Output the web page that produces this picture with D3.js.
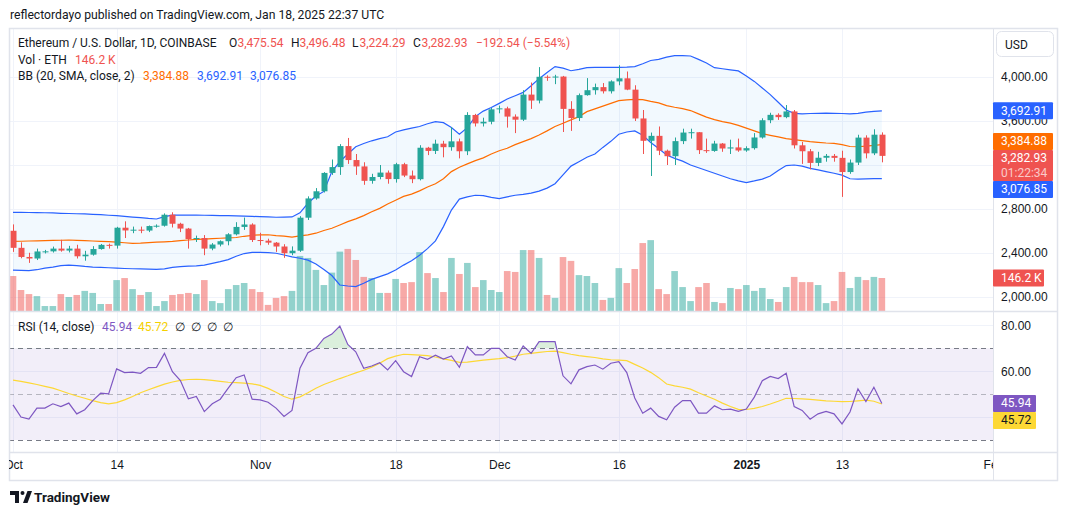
<!DOCTYPE html>
<html>
<head>
<meta charset="utf-8">
<script src="https://cdn.jsdelivr.net/npm/d3@7"></script>
<style>
  body { margin: 0; background: #fff; }
  svg { display: block; font-family: Roboto, "Liberation Sans", sans-serif; }
  .axis text { fill: #131722; font-size: 12px; }
</style>
</head>
<body>
<svg id="chart" width="1068" height="515"></svg>
<script>
// 1: DATA (ETH/USD daily, Oct 1 2024 - Jan 18 2025)
const startDay = new Date(Date.UTC(2024, 9, 1));
const endDay = new Date(Date.UTC(2025, 0, 19));

const open = [
  2602,2447,2364,2350,2414,2415,2440,2422,2440,2370,2385,2436,2474,2467,2630,2605,2612,2604,2645,2648,2748,2666,2622,2527,2536,2440,2477,2507,2570,2637,2659,
  2518,2512,2494,2459,2398,2421,2721,2896,2961,3128,3181,3372,3245,3187,3056,3091,3131,3072,3207,3104,3071,3357,3328,3394,3362,3415,3325,3655,3578,3593,
  3706,3715,3640,3612,3840,3786,4002,3995,4004,3710,3627,3835,3880,3908,3870,3960,3988,3885,3623,3420,3465,3330,3280,3417,3495,3498,3335,3328,3395,3350,3360,
  3332,3353,3450,3607,3656,3635,3687,3379,3325,3219,3266,3283,3265,3136,3222,3449,3306,3475.54
];
const high = [
  2660,2497,2402,2440,2428,2458,2520,2465,2475,2420,2462,2482,2485,2638,2688,2640,2640,2650,2660,2760,2770,2675,2628,2558,2563,2490,2515,2580,2680,2722,2670,
  2584,2530,2500,2480,2460,2735,2915,2990,3135,3250,3390,3446,3300,3225,3120,3200,3150,3220,3220,3150,3380,3365,3430,3420,3545,3440,3680,3665,3630,3720,
  3740,3730,3660,3880,3950,4090,4015,4020,4010,3780,3850,3990,3940,3945,3970,4107,4050,3925,3700,3495,3550,3340,3450,3530,3530,3500,3440,3420,3400,3430,3440,
  3370,3490,3625,3675,3670,3745,3700,3410,3345,3320,3300,3300,3330,3250,3475,3470,3525,3496.48
];
const low = [
  2410,2352,2310,2336,2396,2404,2412,2405,2350,2330,2376,2430,2440,2440,2536,2580,2580,2590,2630,2640,2632,2590,2440,2500,2380,2425,2460,2470,2560,2610,2500,
  2470,2475,2410,2356,2380,2410,2700,2885,2950,3110,3110,3210,3110,3020,3030,3070,3030,3040,3090,3035,3060,3290,3300,3270,3330,3260,3290,3550,3550,3570,
  3670,3540,3490,3600,3710,3760,3965,3935,3500,3510,3600,3830,3840,3850,3850,3925,3880,3600,3300,3100,3290,3200,3200,3390,3440,3300,3310,3320,3320,3300,3320,
  3320,3340,3440,3580,3610,3625,3350,3210,3160,3190,3230,3230,2910,3120,3200,3260,3290,3224.29
];
const close = [
  2447,2364,2350,2414,2415,2440,2422,2440,2370,2385,2436,2474,2467,2630,2605,2612,2604,2645,2648,2748,2666,2622,2527,2536,2440,2477,2507,2570,2637,2659,2518,
  2512,2494,2459,2398,2421,2721,2896,2961,3128,3181,3372,3245,3187,3056,3091,3131,3072,3207,3104,3071,3357,3328,3394,3362,3415,3325,3655,3578,3593,3706,
  3715,3640,3612,3840,3786,4002,3995,4004,3710,3627,3835,3880,3908,3870,3960,3988,3885,3623,3420,3465,3330,3280,3417,3495,3498,3335,3328,3395,3350,3360,3332,
  3353,3450,3607,3656,3635,3687,3379,3325,3219,3266,3283,3265,3136,3222,3449,3306,3475.47,3282.93
];
// volume in thousands of ETH
const volume = [
  155,93,75,66,22,22,75,62,71,89,80,31,31,137,146,97,71,84,22,44,71,75,80,75,137,44,35,97,115,124,97,
  84,27,58,66,89,244,235,182,115,170,263,275,226,151,146,80,80,142,124,128,261,168,146,84,235,164,213,106,137,93,
  84,177,173,270,270,235,71,58,239,222,159,155,124,49,58,190,124,186,301,314,97,75,177,106,44,106,124,40,35,102,97,
  115,89,102,53,40,106,151,128,128,115,35,44,173,102,151,137,151,146.2
];
// Bollinger bands (20, SMA, close, 2)
const bbUpper = [
  2770,2769,2768,2767,2766,2764,2761,2759,2757,2755,2752,2748,2743,2739,2733,2727,2721,2714,2709,2730,
  2745,2745,2744,2744,2743,2742,2740,2739,2737,2736,2733,2730,2728,2725,2726,2728,2765,2852,2918,2960,
  3140,3230,3300,3366,3395,3420,3440,3457,3500,3520,3535,3550,3575,3594,3585,3540,3480,3540,3640,3690,
  3722,3760,3800,3830,3860,3920,3985,4040,4095,4080,4057,4070,4085,4088,4088,4088,4088,4090,4095,4120,
  4150,4160,4180,4194,4195,4191,4160,4128,4085,4075,4065,4055,4010,3960,3900,3840,3770,3700,3670,3665,
  3668,3670,3672,3670,3668,3664,3670,3680,3688,3692.91
];
const bbMid = [
  2505,2507,2509,2510,2512,2514,2516,2518,2515,2512,2509,2506,2503,2498,2493,2488,2490,2494,2498,2502,
  2506,2512,2518,2523,2527,2531,2534,2537,2541,2552,2561,2564,2566,2558,2553,2544,2555,2565,2580,2605,
  2625,2655,2685,2710,2740,2775,2806,2845,2880,2915,2935,2965,3000,3030,3075,3140,3180,3210,3240,3265,
  3300,3330,3352,3385,3412,3440,3473,3510,3550,3580,3610,3640,3685,3710,3735,3760,3785,3792,3797,3794,
  3778,3765,3740,3725,3712,3695,3665,3635,3612,3595,3580,3560,3535,3510,3485,3470,3455,3440,3430,3422,
  3412,3406,3400,3396,3385,3368,3366,3372,3378,3384.88
];
const bbLower = [
  2245,2242,2240,2248,2262,2272,2285,2290,2286,2278,2272,2270,2266,2262,2259,2257,2255,2253,2252,2255,
  2270,2276,2280,2283,2290,2306,2322,2340,2370,2395,2406,2405,2404,2398,2382,2365,2352,2335,2300,2250,
  2195,2109,2100,2094,2125,2160,2185,2210,2245,2290,2330,2380,2440,2510,2640,2790,2890,2910,2925,2922,
  2905,2895,2910,2925,2933,2945,2962,2990,3030,3110,3190,3230,3270,3300,3360,3415,3480,3500,3510,3470,
  3405,3350,3291,3260,3235,3200,3175,3150,3125,3100,3075,3055,3040,3055,3072,3100,3150,3195,3200,3190,
  3170,3155,3140,3125,3108,3075,3072,3074,3076,3076.85
];
// RSI (14, close) and its moving average
const rsi = [
  45.3,40,39.1,43.9,43.9,45.8,44.6,46.1,41.4,43.2,47.2,50.4,50.1,61,59.4,59.6,59.1,61.6,61.7,67.8,
  59.8,55.9,48,49,42.4,45.8,47.8,52.6,57.2,58.4,47.8,47.5,46.5,43.9,40.3,42.9,61.3,68.1,70,74.3,
  76.2,79.7,71.7,68.5,61.3,62.3,63.7,60.6,64.6,59.8,57.7,66.3,65.2,67,65.3,66.7,61.7,70.7,67.1,67.1,
  70,70,66.3,64.9,71,67.8,72.9,72.9,72.9,58,54.5,60.6,62,62.7,60.9,63.5,64.2,59.4,48.3,41.7,
  43.9,40.3,38.8,44.3,47.2,47.2,41.7,41.7,44.9,43.2,43.5,42.5,43.5,48.7,55.9,57.7,56.8,59.1,44.6,42.9,
  39.1,41.4,42.5,41.4,37,42.2,52.3,46.8,53,45.94
];
const rsiMa = [
  56.1,55.6,54.9,54.2,53.4,52.6,51.5,50.3,49.2,48.2,47.2,46.3,45.8,46.3,47.5,49,50.6,51.9,53.2,54.4,
  55.3,56,56.4,56.5,56.3,56,55.6,55.2,55,54.8,54.5,53.8,52.5,50.8,49,47.8,48.8,50.6,52.6,54.2,
  55.5,56.8,58,59.3,60.4,61.8,63.5,65.5,66.6,67.4,67.2,67,66.8,66.2,65.4,64.7,63.9,64,64.4,64.8,
  65.2,65.5,65.9,66.6,67.4,67.8,68.2,68.6,68.8,68.1,67.4,66.8,66.4,66,65.4,65,64.8,64.6,63,61.4,
  59.5,57.2,54.4,53.6,53,52.2,50.6,49.2,47.8,46.1,44.6,43.4,43.3,43.8,44.6,45.7,46.9,48.2,48.1,47.9,
  47.7,47.4,47.1,46.9,46.7,46.8,47.1,47.4,46.9,45.72
];

const priceTicks = [2000, 2400, 2800, 3200, 3600, 4000];
const priceTickLabels = [2000, 2400, 2800, 3600, 4000];   // 3,200 sits under the last-price tag
const rsiTicks = [40, 60, 80];
const rsiTickLabels = [60, 80];                           // 40 sits under the MA tag
const timeTicks = ["2024-10-01", "2024-10-14", "2024-11-01", "2024-11-18", "2024-12-01", "2024-12-16", "2025-01-01", "2025-01-13", "2025-02-01"];
const timeLabels = ["Oct", "14", "Nov", "18", "Dec", "16", "2025", "13", "Feb"];

// 2: LAYOUT
const W = 1068, H = 515;
const frame = { left: 9, top: 28, right: 1058, bottom: 481 };
const axisX = 993;
const mainBottom = 311, rsiTop = 312, rsiBottom = 452;

const UP = "#26a69a", DOWN = "#ef5350";

const dates = d3.utcDay.range(startDay, endDay);
const bars = dates.map((d, i) => ({
  date: d, o: open[i], h: high[i], l: low[i], c: close[i], v: volume[i],
  up: bbUpper[i], mid: bbMid[i], lo: bbLower[i], rsi: rsi[i], ma: rsiMa[i]
}));

// 3: SCALES
const x = d3.scaleUtc()
  .domain([new Date(Date.UTC(2024, 9, 1)), new Date(Date.UTC(2025, 0, 13))])
  .range([13, 842]);
const yPrice = d3.scaleLinear().domain([2000, 4000]).range([297, 77]);
const yVol = d3.scaleLinear().domain([0, 146.2]).range([311, 278]);
const yRsi = d3.scaleLinear().domain([30, 70]).range([440, 348.3]);

const svg = d3.select("#chart");
svg.append("rect").attr("width", W).attr("height", H).attr("fill", "#fff");

const defs = svg.append("defs");
defs.append("clipPath").attr("id", "clipMain").append("rect")
  .attr("x", frame.left).attr("y", frame.top).attr("width", axisX - frame.left).attr("height", mainBottom - frame.top);
defs.append("clipPath").attr("id", "clipRsi").append("rect")
  .attr("x", frame.left).attr("y", rsiTop).attr("width", axisX - frame.left).attr("height", rsiBottom - rsiTop);
defs.append("clipPath").attr("id", "clipOb").append("rect")
  .attr("x", frame.left).attr("y", rsiTop).attr("width", axisX - frame.left).attr("height", yRsi(70) - rsiTop);
defs.append("clipPath").attr("id", "clipTime").append("rect")
  .attr("x", frame.left).attr("y", rsiBottom).attr("width", axisX - frame.left).attr("height", frame.bottom - rsiBottom);

// 4: GRID
const grid = svg.append("g").attr("stroke", "#f0f3fa").attr("stroke-width", 1);
timeTicks.forEach(t => {
  const xx = Math.round(x(new Date(t + "T00:00:00Z"))) + 0.5;
  if (xx < axisX) {
    grid.append("line").attr("x1", xx).attr("x2", xx).attr("y1", frame.top).attr("y2", rsiBottom);
  }
});
priceTicks.forEach(p => {
  const yy = Math.round(yPrice(p)) + 0.5;
  grid.append("line").attr("x1", frame.left).attr("x2", axisX).attr("y1", yy).attr("y2", yy);
});
rsiTicks.forEach(r => {
  const yy = Math.round(yRsi(r)) + 0.5;
  grid.append("line").attr("x1", frame.left).attr("x2", axisX).attr("y1", yy).attr("y2", yy);
});

// 5: MAIN PANE
const main = svg.append("g").attr("clip-path", "url(#clipMain)");

// bollinger fill
main.append("path")
  .datum(bars)
  .attr("fill", "rgba(33,150,243,0.06)")
  .attr("d", d3.area().x(d => x(d.date)).y0(d => yPrice(d.lo)).y1(d => yPrice(d.up)));

// volume
main.selectAll(".vol")
  .data(bars)
  .enter()
  .append("rect")
  .attr("x", d => x(d.date) - 3.3)
  .attr("width", 6.6)
  .attr("y", d => yVol(d.v))
  .attr("height", d => yVol(0) - yVol(d.v))
  .attr("fill", d => d.c >= d.o ? UP : DOWN)
  .attr("opacity", 0.5);

// bollinger lines
const bandLine = key => d3.line().x(d => x(d.date)).y(d => yPrice(d[key]));
main.append("path").datum(bars).attr("fill", "none").attr("stroke", "#2962ff").attr("stroke-width", 1.2).attr("d", bandLine("up"));
main.append("path").datum(bars).attr("fill", "none").attr("stroke", "#2962ff").attr("stroke-width", 1.2).attr("d", bandLine("lo"));
main.append("path").datum(bars).attr("fill", "none").attr("stroke", "#ff6d00").attr("stroke-width", 1.2).attr("d", bandLine("mid"));

// candles
const candles = main.selectAll(".candle")
  .data(bars)
  .enter()
  .append("g")
  .attr("fill", d => d.c >= d.o ? UP : DOWN)
  .attr("stroke", d => d.c >= d.o ? UP : DOWN);

candles.append("line")
  .attr("x1", d => Math.round(x(d.date)) + 0.5)
  .attr("x2", d => Math.round(x(d.date)) + 0.5)
  .attr("y1", d => yPrice(d.h))
  .attr("y2", d => yPrice(d.l))
  .attr("stroke-width", 1);

candles.append("rect")
  .attr("x", d => Math.round(x(d.date)) - 2.5)
  .attr("width", 6)
  .attr("y", d => yPrice(Math.max(d.o, d.c)))
  .attr("height", d => Math.max(1, Math.abs(yPrice(d.o) - yPrice(d.c))))
  .attr("stroke", "none");

// 6: RSI PANE
const rsiG = svg.append("g").attr("clip-path", "url(#clipRsi)");
rsiG.append("rect")
  .attr("x", frame.left).attr("width", axisX - frame.left)
  .attr("y", yRsi(70)).attr("height", yRsi(30) - yRsi(70))
  .attr("fill", "rgba(126,87,194,0.1)");

[70, 50, 30].forEach(level => {
  rsiG.append("line")
    .attr("x1", frame.left).attr("x2", axisX)
    .attr("y1", Math.round(yRsi(level)) + 0.5).attr("y2", Math.round(yRsi(level)) + 0.5)
    .attr("stroke", "#787b86")
    .attr("stroke-opacity", level === 50 ? 0.5 : 1)
    .attr("stroke-dasharray", "5,4");
});

// overbought fill
rsiG.append("path")
  .datum(bars)
  .attr("clip-path", "url(#clipOb)")
  .attr("fill", "rgba(76,175,80,0.2)")
  .attr("d", d3.area().x(d => x(d.date)).y0(yRsi(70)).y1(d => yRsi(d.rsi)));

rsiG.append("path").datum(bars).attr("fill", "none").attr("stroke", "#fdd835").attr("stroke-width", 1.2)
  .attr("d", d3.line().x(d => x(d.date)).y(d => yRsi(d.ma)));
rsiG.append("path").datum(bars).attr("fill", "none").attr("stroke", "#7e57c2").attr("stroke-width", 1.2)
  .attr("d", d3.line().x(d => x(d.date)).y(d => yRsi(d.rsi)));

// 7: FRAME AND AXES
const border = svg.append("g").attr("stroke", "#e0e3eb").attr("fill", "none");
border.append("rect")
  .attr("x", frame.left + 0.5).attr("y", frame.top + 0.5)
  .attr("width", frame.right - frame.left - 1).attr("height", frame.bottom - frame.top - 1)
  .attr("stroke-width", 1.5);
border.append("line").attr("x1", axisX + 0.5).attr("x2", axisX + 0.5).attr("y1", frame.top).attr("y2", frame.bottom);
border.append("line").attr("x1", frame.left).attr("x2", frame.right).attr("y1", mainBottom + 0.5).attr("y2", mainBottom + 0.5).attr("stroke-width", 1.5);
border.append("line").attr("x1", frame.left).attr("x2", frame.right).attr("y1", rsiBottom + 0.5).attr("y2", rsiBottom + 0.5).attr("stroke-width", 1.5);

const priceAxis = svg.append("g")
  .attr("class", "axis")
  .attr("transform", `translate(${axisX + 8},0)`)
  .call(d3.axisRight(yPrice).tickValues(priceTickLabels).tickSize(0).tickPadding(0).tickFormat(d3.format(",.2f")));
priceAxis.select(".domain").remove();

const rsiAxis = svg.append("g")
  .attr("class", "axis")
  .attr("transform", `translate(${axisX + 8},0)`)
  .call(d3.axisRight(yRsi).tickValues(rsiTickLabels).tickSize(0).tickPadding(0).tickFormat(d3.format(".2f")));
rsiAxis.select(".domain").remove();

const timeAxis = svg.append("g")
  .attr("class", "axis")
  .attr("clip-path", "url(#clipTime)")
  .append("g")
  .attr("transform", `translate(0,${rsiBottom})`)
  .call(d3.axisBottom(x)
    .tickValues(timeTicks.map(t => new Date(t + "T00:00:00Z")))
    .tickSize(0).tickPadding(8)
    .tickFormat((d, i) => timeLabels[i]));
timeAxis.select(".domain").remove();
timeAxis.selectAll("text").attr("font-weight", (d, i) => timeLabels[i] === "2025" ? "bold" : null);

// USD box
svg.append("rect").attr("x", 996.5).attr("y", 31.5).attr("width", 57).attr("height", 25).attr("rx", 5)
  .attr("fill", "#fff").attr("stroke", "#e0e3eb");
svg.append("text").attr("x", 1005).attr("y", 49).attr("font-size", 12).attr("fill", "#131722").text("USD");

// 8: LAST VALUE LABELS
const fmt = d3.format(",.2f");
const last = bars[bars.length - 1];
const prev = bars[bars.length - 2];
const lblH = 17;
function priceLabel(top, h, bg, lines, w) {
  const g = svg.append("g");
  g.append("rect").attr("x", axisX).attr("y", top).attr("width", w || 60).attr("height", h).attr("fill", bg).attr("rx", 1);
  lines.forEach((ln, i) => {
    g.append("text").attr("x", axisX + 8).attr("y", top + 12.5 + i * 15)
      .attr("font-size", 12).attr("fill", ln.color).text(ln.text);
  });
}
// close label anchored at its value, others pushed away
const closeTop = yPrice(last.c) - 6;
const closeH = 31;
let midTop = yPrice(last.mid) - lblH / 2;
if (midTop + lblH > closeTop) midTop = closeTop - lblH;
let upTop = yPrice(last.up) - lblH / 2;
if (upTop + lblH > midTop) upTop = midTop - lblH;
let loTop = yPrice(last.lo) - lblH / 2;
if (loTop < closeTop + closeH) loTop = closeTop + closeH;

priceLabel(upTop, lblH, "#2962ff", [{ text: fmt(last.up), color: "#fff" }]);
priceLabel(midTop, lblH, "#ff6d00", [{ text: fmt(last.mid), color: "#fff" }]);
priceLabel(closeTop, closeH, DOWN, [{ text: fmt(last.c), color: "#fff" }, { text: "01:22:34", color: "rgba(255,255,255,0.7)" }]);
priceLabel(loTop, lblH, "#2962ff", [{ text: fmt(last.lo), color: "#fff" }]);
priceLabel(yVol(last.v) - lblH / 2, lblH, DOWN, [{ text: d3.format(".1f")(last.v) + " K", color: "#fff" }], 51);

let rsiTopLbl = yRsi(last.rsi) - lblH / 2;
let maTopLbl = yRsi(last.ma) - lblH / 2;
if (maTopLbl < rsiTopLbl + lblH) maTopLbl = rsiTopLbl + lblH;
priceLabel(rsiTopLbl, lblH, "#7e57c2", [{ text: d3.format(".2f")(last.rsi), color: "#fff" }], 43);
priceLabel(maTopLbl, lblH, "#fdd835", [{ text: d3.format(".2f")(last.ma), color: "#131722" }], 43);

// 9: LEGENDS
const txt = (xx, yy, s, color, size) => svg.append("text")
  .attr("x", xx).attr("y", yy).attr("font-size", size || 12).attr("fill", color || "#131722").text(s);

txt(10, 19, "reflectordayo published on TradingView.com, Jan 18, 2025 22:37 UTC", "#131722", 12.2);

const chg = last.c - prev.c;
const minus = s => s.replace("-", "\u2212");
txt(18, 47, "Ethereum / U.S. Dollar, 1D, COINBASE");
txt(229, 47, "O"); txt(237.5, 47, fmt(last.o), DOWN);
txt(291, 47, "H"); txt(299.5, 47, fmt(last.h), DOWN);
txt(352, 47, "L"); txt(359.5, 47, fmt(last.l), DOWN);
txt(413, 47, "C"); txt(421.5, 47, fmt(last.c), DOWN);
txt(476, 47, minus(fmt(chg)) + " (" + minus(d3.format(".2%")(chg / prev.c)) + ")", DOWN);

txt(18, 64, "Vol \u00b7 ETH");
txt(75, 64, d3.format(".1f")(last.v) + " K", DOWN);

txt(18, 80, "BB (20, SMA, close, 2)");
txt(143, 80, fmt(last.mid), "#ff6d00");
txt(197, 80, fmt(last.up), "#2962ff");
txt(250, 80, fmt(last.lo), "#2962ff");

txt(18, 331, "RSI (14, close)");
txt(102, 331, d3.format(".2f")(last.rsi), "#7e57c2");
txt(138, 331, d3.format(".2f")(last.ma), "#f5d000");
["\u2205", "\u2205", "\u2205", "\u2205"].forEach((s, i) => txt(175 + i * 16, 331, s));

// 10: FOOTER LOGO
const logo = svg.append("g").attr("fill", "#131722");
logo.append("path").attr("d", "M10 491 h9 v12 h-4 v-8 h-5 z");
logo.append("circle").attr("cx", 22.5).attr("cy", 493).attr("r", 2);
logo.append("path").attr("d", "M23 503 l4.5 -12 h4.5 l-4.5 12 z");
txt(34, 502, "TradingView", "#131722", 13.5).attr("font-weight", "bold");
</script>
</body>
</html>
